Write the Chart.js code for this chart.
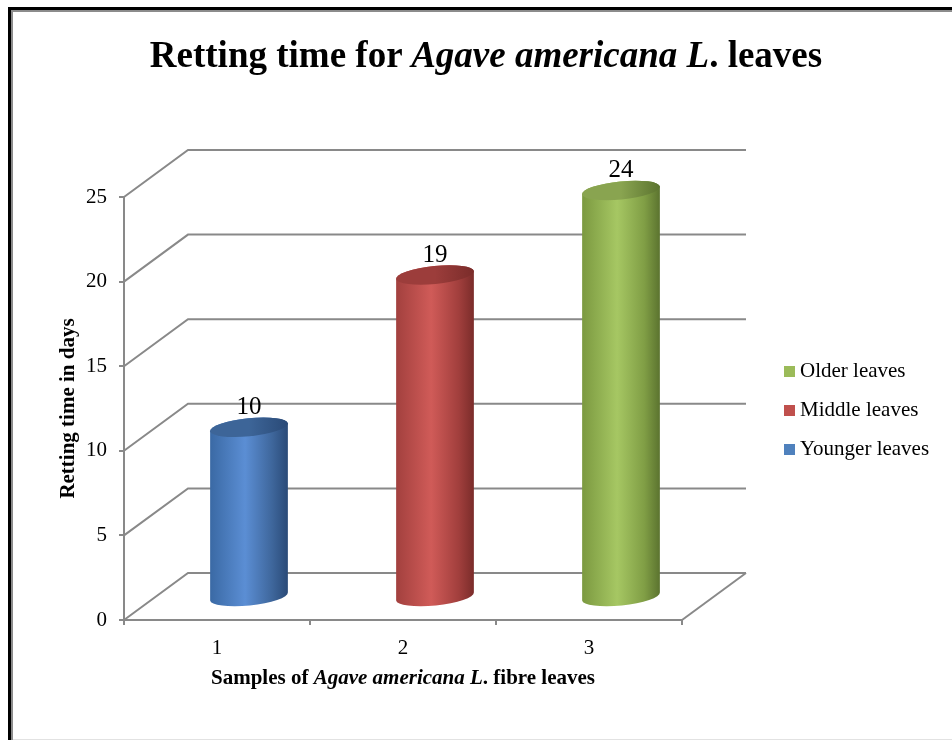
<!DOCTYPE html>
<html>
<head>
<meta charset="utf-8">
<script src="https://cdn.jsdelivr.net/npm/chart.js@4/dist/chart.umd.min.js"></script>
<style>
  html, body { margin: 0; padding: 0; background: #fff; overflow: hidden; }
  #wrap { position: relative; width: 952px; height: 740px; }
  #chart { position: absolute; left: 0; top: 0; }
  .caption { position: absolute; white-space: nowrap; color: #000; font-family: 'Liberation Serif', 'Times New Roman', serif; font-weight: bold; transform: translateX(-50%); }
  #title { left: 486px; top: 36px; font-size: 37px; line-height: 37px; }
  #xtitle { left: 403px; top: 667px; font-size: 21px; line-height: 21px; }
</style>
</head>
<body>
<div id="wrap">
  <canvas id="chart" width="952" height="740"></canvas>
  <div id="title" class="caption">Retting time for <i>Agave americana L</i>. leaves</div>
  <div id="xtitle" class="caption">Samples of <i>Agave americana L</i>. fibre leaves</div>
</div>
<script>
const categories = ['1', '2', '3'];
const seriesNames = ['Younger leaves', 'Middle leaves', 'Older leaves'];
const rettingDays = [10, 19, 24];
const yTicks = [0, 5, 10, 15, 20, 25];

// base colour plus shading stops for each cylinder
const seriesColors = ['#4F81BD', '#C0504D', '#9BBB59'];
const shades = [
  { edge: '#3a69a4', light: '#5b8ed4', shadow: '#3e669b', dark: '#2a4a77', cap: '#3d6598' },
  { edge: '#a2403e', light: '#d05b58', shadow: '#a23f3d', dark: '#7a2c2a', cap: '#9c3d3b' },
  { edge: '#7b9940', light: '#a6c763', shadow: '#809e45', dark: '#5b732f', cap: '#89a450' }
];

const FONT = "'Liberation Serif', 'Times New Roman', serif";
const GRID = '#898989';
const DEPTH_X = 64, DEPTH_Y = -47;

const datasets = seriesNames.map((name, i) => ({
  label: name,
  data: categories.map((c, j) => (j === i ? rettingDays[i] : null)),
  backgroundColor: seriesColors[i],
  grouped: false,
  categoryPercentage: 1,
  barPercentage: 0.42
}));

const frame = {
  id: 'frame',
  beforeDraw(chart) {
    const ctx = chart.ctx;
    ctx.save();
    ctx.fillStyle = '#000';
    ctx.fillRect(8, 7, 3, 733);
    ctx.fillRect(8, 7, 944, 3);
    ctx.fillStyle = '#8c8c8c';
    ctx.fillRect(11, 10, 2, 730);
    ctx.fillRect(11, 10, 941, 2);
    ctx.fillStyle = '#e2e2e2';
    ctx.fillRect(13, 739, 939, 1);
    ctx.restore();
  }
};

function drawCylinder(ctx, cx, ty, by, r, s) {
  const ry = 9, rot = -0.1;
  const g = ctx.createLinearGradient(cx - r, 0, cx + r, 0);
  g.addColorStop(0, s.edge);
  g.addColorStop(0.45, s.light);
  g.addColorStop(0.8, s.shadow);
  g.addColorStop(1, s.dark);
  ctx.beginPath();
  ctx.ellipse(cx, by, r, ry, rot, 0, Math.PI);
  ctx.ellipse(cx, ty, r, ry, rot, Math.PI, 2 * Math.PI);
  ctx.closePath();
  ctx.fillStyle = g;
  ctx.fill();

  const c = ctx.createLinearGradient(cx - r, 0, cx + r, 0);
  c.addColorStop(0, s.cap);
  c.addColorStop(0.5, s.cap);
  c.addColorStop(1, s.dark);
  ctx.beginPath();
  ctx.ellipse(cx, ty, r, ry, rot, 0, 2 * Math.PI);
  ctx.fillStyle = c;
  ctx.fill();
}

// back wall, side wall, floor and the cylinders themselves
const cylinders = {
  id: 'cylinders',
  beforeDatasetsDraw(chart) {
    const ctx = chart.ctx;
    const area = chart.chartArea;
    const y = chart.scales.y;
    ctx.save();
    ctx.strokeStyle = GRID;
    ctx.lineWidth = 2;
    yTicks.forEach(v => {
      const py = y.getPixelForValue(v);
      ctx.beginPath();
      ctx.moveTo(area.left, py);
      ctx.lineTo(area.left + DEPTH_X, py + DEPTH_Y);
      ctx.lineTo(area.right + DEPTH_X, py + DEPTH_Y);
      ctx.stroke();
    });
    const py0 = y.getPixelForValue(0);
    ctx.beginPath();
    ctx.moveTo(area.right, py0);
    ctx.lineTo(area.right + DEPTH_X, py0 + DEPTH_Y);
    ctx.stroke();

    chart.data.datasets.forEach((ds, i) => {
      chart.getDatasetMeta(i).data.forEach((bar, j) => {
        const v = ds.data[j];
        if (v === null) return;
        const cx = bar.x + DEPTH_X / 2;
        const ty = bar.y + DEPTH_Y / 2;
        const by = bar.base + DEPTH_Y / 2 + 1;
        drawCylinder(ctx, cx, ty, by, bar.width / 2, shades[i]);
        ctx.fillStyle = '#000';
        ctx.font = '25px ' + FONT;
        ctx.textAlign = 'center';
        ctx.textBaseline = 'middle';
        ctx.fillText(String(v), cx, ty - 20);
      });
    });

    // legend, listed top to bottom in reverse series order
    const mid = (area.top + area.bottom) / 2 + 2;
    const n = chart.data.datasets.length;
    ctx.font = '21px ' + FONT;
    ctx.textAlign = 'left';
    ctx.textBaseline = 'middle';
    for (let k = 0; k < n; k++) {
      const i = n - 1 - k;
      const ly = mid + (k - (n - 1) / 2) * 39;
      ctx.fillStyle = chart.data.datasets[i].backgroundColor;
      ctx.fillRect(784, ly - 5.5, 11, 11);
      ctx.fillStyle = '#000';
      ctx.fillText(chart.data.datasets[i].label, 800, ly);
    }
    ctx.restore();
    return false;
  }
};

new Chart(document.getElementById('chart'), {
  type: 'bar',
  data: { labels: categories, datasets: datasets },
  options: {
    responsive: false,
    animation: false,
    events: [],
    layout: { padding: { left: 0, top: 197, right: 270, bottom: 80 } },
    plugins: { legend: { display: false }, tooltip: { enabled: false } },
    scales: {
      x: {
        afterFit: s => { s.height = 40; },
        grid: { drawOnChartArea: false, drawTicks: true, tickLength: 5, color: GRID, lineWidth: 2 },
        border: { display: true, color: GRID, width: 2 },
        ticks: { color: '#000', padding: 11, font: { family: FONT, size: 21 } }
      },
      y: {
        min: 0,
        max: 25,
        afterFit: s => { s.width = 124; },
        afterBuildTicks: s => { s.ticks = yTicks.map(v => ({ value: v })); },
        grid: { drawOnChartArea: false, drawTicks: true, tickLength: 5, color: GRID, lineWidth: 2 },
        border: { display: true, color: GRID, width: 2 },
        ticks: { color: '#000', padding: 12, font: { family: FONT, size: 21 } },
        title: {
          display: true,
          text: 'Retting time in days',
          color: '#000',
          padding: { top: 56, bottom: 0 },
          font: { family: FONT, size: 21, weight: 'bold' }
        }
      }
    }
  },
  plugins: [frame, cylinders]
});
</script>
</body>
</html>
